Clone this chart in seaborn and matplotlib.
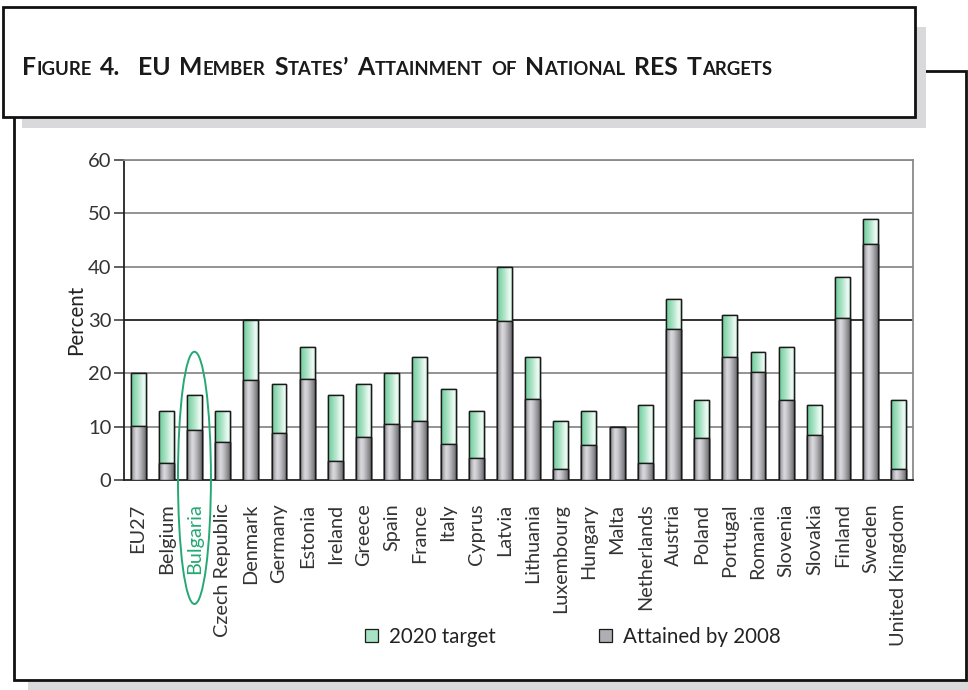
import numpy as np
import pandas as pd
import matplotlib
matplotlib.use("Agg")
import matplotlib.pyplot as plt
import seaborn as sns
from matplotlib.colors import LinearSegmentedColormap
from matplotlib.patches import Rectangle, Ellipse, Patch

countries = ["EU27", "Belgium", "Bulgaria", "Czech Republic", "Denmark", "Germany",
             "Estonia", "Ireland", "Greece", "Spain", "France", "Italy", "Cyprus",
             "Latvia", "Lithuania", "Luxembourg", "Hungary", "Malta", "Netherlands",
             "Austria", "Poland", "Portugal", "Romania", "Slovenia", "Slovakia",
             "Finland", "Sweden", "United Kingdom"]
target_2020 = [20, 13, 16, 13, 30, 18, 25, 16, 18, 20, 23, 17, 13, 40, 23, 11, 13,
               10, 14, 34, 15, 31, 24, 25, 14, 38, 49, 15]
attained_2008 = [10.2, 3.1, 9.3, 7.1, 18.8, 8.9, 19.0, 3.6, 8.0, 10.5, 11.0, 6.8, 4.1,
                 29.9, 15.2, 2.1, 6.6, 10.0, 3.2, 28.4, 7.8, 23.0, 20.3, 15.0, 8.4,
                 30.3, 44.2, 2.1]
y_ticks = [0, 10, 20, 30, 40, 50, 60]
highlight = "Bulgaria"

df = pd.DataFrame({"country": countries, "target": target_2020, "attained": attained_2008})

sns.set_theme(style="white")
plt.rcParams["font.family"] = ["Lato", "DejaVu Sans"]

W, H = 968, 690
fig = plt.figure(figsize=(W / 100, H / 100), dpi=100, facecolor="white")

def fx(px):
    return px / W

def fy(py):
    return 1 - py / H

# frames: outer panel with shadow, title box with shadow
fig.patches.append(Rectangle((fx(28), fy(695)), fx(981) - fx(28), fy(86) - fy(695),
                             transform=fig.transFigure, facecolor="#d9d9db",
                             edgecolor="none", zorder=-6))
fig.patches.append(Rectangle((fx(13.5), fy(680)), fx(966) - fx(13.5), fy(71) - fy(680),
                             transform=fig.transFigure, facecolor="white",
                             edgecolor="#111111", linewidth=2, zorder=-5))
fig.patches.append(Rectangle((fx(22), fy(128)), fx(926) - fx(22), fy(27) - fy(128),
                             transform=fig.transFigure, facecolor="#d9d9db",
                             edgecolor="none", zorder=-4))
fig.patches.append(Rectangle((fx(3), fy(117)), fx(915) - fx(3), fy(7) - fy(117),
                             transform=fig.transFigure, facecolor="white",
                             edgecolor="#111111", linewidth=2, zorder=-3))

ax = fig.add_axes([fx(124), fy(480), fx(913) - fx(124), fy(160) - fy(480)])
ax.set_facecolor("none")

green_mid = "#a6e2c3"
grey_mid = "#aeaeb3"
sns.barplot(data=df, x="country", y="target", color=green_mid, width=0.53,
            edgecolor="#1a1a1a", linewidth=1.0, saturation=1, ax=ax, zorder=3)
n_green = len(ax.patches)
sns.barplot(data=df, x="country", y="attained", color=grey_mid, width=0.53,
            edgecolor="#1a1a1a", linewidth=1.0, saturation=1, ax=ax, zorder=4)

green_cmap = LinearSegmentedColormap.from_list(
    "g", [(0, "#6fcb99"), (0.45, "#a9e3c5"), (0.8, "#e6f7ee"), (0.93, "#f2fbf6"), (1, "#9fd8b9")])
grey_cmap = LinearSegmentedColormap.from_list(
    "k", [(0, "#86868b"), (0.35, "#dcdce0"), (0.55, "#c6c6ca"), (0.85, "#8e8e93"), (1, "#707075")])
grad = np.linspace(0, 1, 64).reshape(1, -1)

for i, p in enumerate(list(ax.patches)):
    x0, y0, w, h = p.get_x(), p.get_y(), p.get_width(), p.get_height()
    if h <= 0:
        continue
    cmap = green_cmap if i < n_green else grey_cmap
    im = ax.imshow(grad, cmap=cmap, aspect="auto", extent=[x0, x0 + w, y0, y0 + h],
                   interpolation="bicubic", zorder=p.get_zorder() + 0.2)
    im.set_clip_path(p)
    ax.add_patch(Rectangle((x0, y0), w, h, fill=False, edgecolor="#1a1a1a",
                           linewidth=1.0, zorder=p.get_zorder() + 0.4))

ax.set_xlim(-0.5, len(countries) - 0.5)
ax.set_ylim(0, 60)
ax.set_yticks(y_ticks)

# gridlines: grey, with the 30% line drawn darker
for v in y_ticks[1:]:
    ax.axhline(v, color="#222222" if v == 30 else "#8a8a8a", linewidth=1.3, zorder=1)

for side in ["left", "bottom"]:
    ax.spines[side].set_color("#222222")
    ax.spines[side].set_linewidth(1.3)
for side in ["right", "top"]:
    ax.spines[side].set_color("#8a8a8a")
    ax.spines[side].set_linewidth(1.3)

ax.set_xticks(range(len(countries)))
ax.set_xticklabels(countries, rotation=90, fontsize=14.3, color="#333333")
ax.set_xticks(np.arange(-0.5, len(countries), 1.0), minor=True)
ax.tick_params(axis="x", which="major", length=0, pad=17)
ax.tick_params(axis="x", which="minor", length=7, width=1.1, color="#333333", direction="out")
ax.tick_params(axis="y", length=7, width=1.1, color="#333333", direction="out",
               labelsize=14.5, labelcolor="#333333", left=True, pad=2)
for lab in ax.get_xticklabels():
    if lab.get_text() == highlight:
        lab.set_color("#25a873")

ax.set_xlabel("")
ax.set_ylabel("Percent", fontsize=14.8, color="#222222", labelpad=1)

hi = countries.index(highlight)
ax.add_patch(Ellipse((hi, 0.4), 1.17, 47.3, fill=False, edgecolor="#25a873",
                     linewidth=1.4, clip_on=False, zorder=10))

handles = [Patch(facecolor=green_mid, edgecolor="#1a1a1a", linewidth=0.9, label="2020 target"),
           Patch(facecolor=grey_mid, edgecolor="#1a1a1a", linewidth=0.9, label="Attained by 2008")]
fig.legend(handles=handles, loc="center", bbox_to_anchor=(fx(573), fy(637)), ncol=2,
           frameon=False, fontsize=14.8, handlelength=0.62, handleheight=0.62,
           handletextpad=0.55, columnspacing=5.0, labelcolor="#222222",
           borderpad=0, borderaxespad=0)

# small-caps title
title = "Figure 4.  EU Member States’ Attainment of National RES Targets"
big_size, small_size = 17.8, 13.3
fig.canvas.draw()
renderer = fig.canvas.get_renderer()

def runs(word):
    out = []
    for ch in word:
        small = ch.islower()
        c = ch.upper() if small else ch
        if out and out[-1][1] == small:
            out[-1][0] += c
        else:
            out.append([c, small])
    return out

x = 22.0
gap = 8.7
for word in title.split(" "):
    if word == "":
        x += gap
        continue
    for txt, small in runs(word):
        t = fig.text(fx(x), fy(75), txt, fontsize=small_size if small else big_size,
                     fontweight="bold", color="#1a1a1a", va="baseline", ha="left",
                     family=["Lato", "DejaVu Sans"])
        x += t.get_window_extent(renderer).width
    x += gap

fig.savefig("out.png", dpi=100, facecolor="white")
